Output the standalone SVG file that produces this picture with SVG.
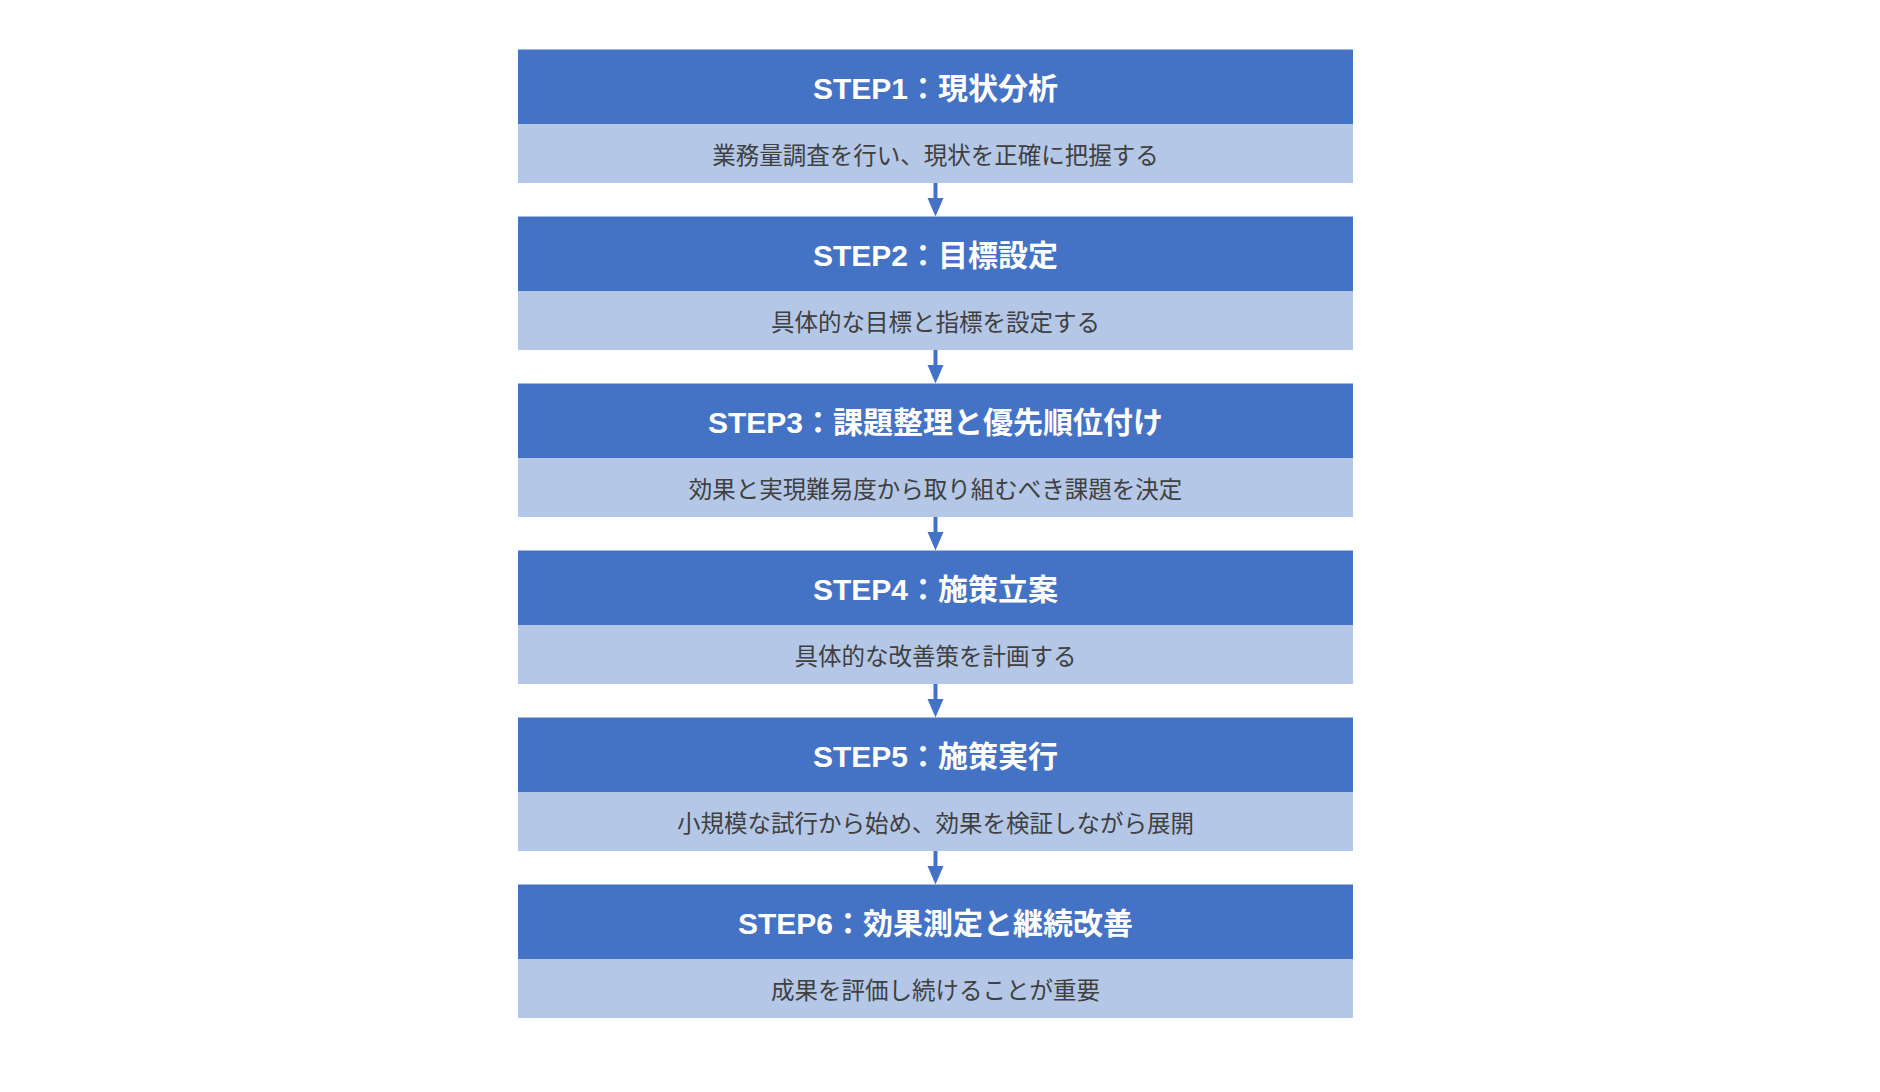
<svg xmlns="http://www.w3.org/2000/svg" width="1880" height="1092" viewBox="0 0 1880 1092">
  <style>
    .hd { fill: #4472C4; }
    .ds { fill: #B4C7E7; }
    .ht { font-family: "Liberation Sans", "Noto Sans CJK JP", sans-serif; font-size: 30px; font-weight: bold; fill: #FFFFFF; text-anchor: middle; dominant-baseline: central; }
    .dt { font-family: "Noto Sans CJK JP", "Liberation Sans", sans-serif; font-size: 23.5px; fill: #404040; text-anchor: middle; dominant-baseline: central; }
    .ln { stroke: #4472C4; stroke-width: 4; fill: none; }
    .ah { fill: #4472C4; }
  </style>
  <rect width="1880" height="1092" fill="#FFFFFF"/>

  <g id="step1">
    <rect class="hd" x="518" y="49.5" width="835" height="74.5"/>
    <rect class="ds" x="518" y="124" width="835" height="59"/>
    <text class="ht" x="935.5" y="88.5">STEP1：現状分析</text>
    <text class="dt" x="935.5" y="154">業務量調査を行い、現状を正確に把握する</text>
  </g>
  <g id="step2">
    <rect class="hd" x="518" y="216.5" width="835" height="74.5"/>
    <rect class="ds" x="518" y="291" width="835" height="59"/>
    <text class="ht" x="935.5" y="255.5">STEP2：目標設定</text>
    <text class="dt" x="935.5" y="321">具体的な目標と指標を設定する</text>
  </g>
  <g id="step3">
    <rect class="hd" x="518" y="383.5" width="835" height="74.5"/>
    <rect class="ds" x="518" y="458" width="835" height="59"/>
    <text class="ht" x="935.5" y="422.5">STEP3：課題整理と優先順位付け</text>
    <text class="dt" x="935.5" y="488">効果と実現難易度から取り組むべき課題を決定</text>
  </g>
  <g id="step4">
    <rect class="hd" x="518" y="550.5" width="835" height="74.5"/>
    <rect class="ds" x="518" y="625" width="835" height="59"/>
    <text class="ht" x="935.5" y="589.5">STEP4：施策立案</text>
    <text class="dt" x="935.5" y="655">具体的な改善策を計画する</text>
  </g>
  <g id="step5">
    <rect class="hd" x="518" y="717.5" width="835" height="74.5"/>
    <rect class="ds" x="518" y="792" width="835" height="59"/>
    <text class="ht" x="935.5" y="756.5">STEP5：施策実行</text>
    <text class="dt" x="935.5" y="822">小規模な試行から始め、効果を検証しながら展開</text>
  </g>
  <g id="step6">
    <rect class="hd" x="518" y="884.5" width="835" height="74.5"/>
    <rect class="ds" x="518" y="959" width="835" height="59"/>
    <text class="ht" x="935.5" y="923.5">STEP6：効果測定と継続改善</text>
    <text class="dt" x="935.5" y="989">成果を評価し続けることが重要</text>
  </g>

  <g id="connectors">
    <line class="ln" x1="935.5" y1="183" x2="935.5" y2="200"/>
    <polygon class="ah" points="927.5,198 943.5,198 935.5,216.5"/>
    <line class="ln" x1="935.5" y1="350" x2="935.5" y2="367"/>
    <polygon class="ah" points="927.5,365 943.5,365 935.5,383.5"/>
    <line class="ln" x1="935.5" y1="517" x2="935.5" y2="534"/>
    <polygon class="ah" points="927.5,532 943.5,532 935.5,550.5"/>
    <line class="ln" x1="935.5" y1="684" x2="935.5" y2="701"/>
    <polygon class="ah" points="927.5,699 943.5,699 935.5,717.5"/>
    <line class="ln" x1="935.5" y1="851" x2="935.5" y2="868"/>
    <polygon class="ah" points="927.5,866 943.5,866 935.5,884.5"/>
  </g>
</svg>
